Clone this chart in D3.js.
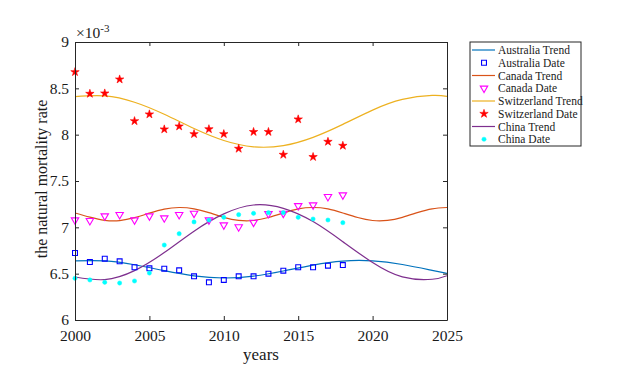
<!DOCTYPE html>
<html><head><meta charset="utf-8">
<script src="https://cdn.jsdelivr.net/npm/d3@7"></script>
<style>body{margin:0;background:#fff}svg{display:block}</style>
</head><body><svg id="c" width="635" height="370"></svg>
<script>
// ---- data (values x 1e-3) ----
const years = [2000,2001,2002,2003,2004,2005,2006,2007,2008,2009,2010,2011,2012,2013,2014,2015,2016,2017,2018];
const australiaDate   = [6.723,6.626,6.662,6.633,6.569,6.558,6.554,6.536,6.471,6.407,6.432,6.471,6.471,6.500,6.532,6.569,6.569,6.586,6.593];
const canadaDate      = [7.079,7.072,7.122,7.137,7.079,7.122,7.101,7.137,7.151,7.079,7.025,7.004,7.054,7.147,7.151,7.233,7.241,7.331,7.349];
const switzerlandDate = [8.676,8.442,8.446,8.597,8.147,8.220,8.058,8.090,8.007,8.060,8.007,7.849,8.030,8.030,7.784,8.166,7.760,7.924,7.881];
const chinaDate       = [6.450,6.432,6.407,6.399,6.421,6.507,6.809,6.931,7.058,7.079,7.108,7.137,7.151,7.158,7.158,7.108,7.090,7.079,7.050];

const trendYears2 = [2000,2002,2004,2006,2008,2010,2012,2014,2016,2018,2020,2022,2024,2025];
const australiaTrend   = [6.637,6.637,6.596,6.532,6.476,6.453,6.474,6.529,6.593,6.636,6.638,6.599,6.536,6.504];
const switzerlandTrend = [8.410,8.418,8.350,8.220,8.066,7.937,7.869,7.882,7.971,8.111,8.265,8.380,8.424,8.414];
const chinaTrend       = [6.464,6.436,6.533,6.728,6.959,7.145,7.241,7.205,7.062,6.845,6.620,6.465,6.440,6.478];
const trendYears1 = [2000,2001,2002,2003,2004,2005,2006,2007,2008,2009,2010,2011,2012,2013,2014,2015,2016,2017,2018,2019,2020,2021,2022,2023,2024,2025];
const canadaTrend = [7.155,7.110,7.076,7.073,7.104,7.153,7.197,7.214,7.200,7.158,7.108,7.075,7.074,7.106,7.155,7.199,7.214,7.199,7.155,7.106,7.074,7.075,7.108,7.158,7.200,7.214];

const xTicks = [2000,2005,2010,2015,2020,2025];
const yTicks = [6,6.5,7,7.5,8,8.5,9];
const legendLabels = ["Australia Trend","Australia Date","Canada Trend","Canada Date","Switzerland Trend","Switzerland Date","China Trend","China Date"];

// ---- layout ----
const svg = d3.select("#c");
const L=75, R=447, T=42, B=320;
const x = d3.scaleLinear().domain([2000,2025]).range([L,R]);
const y = d3.scaleLinear().domain([6,9]).range([B,T]);
const font = "Liberation Serif, Times New Roman, serif";
const axisCol = "#262626";
const txtCol = "#1a1a1a";
const C = {aus:"#0072BD", can:"#D95319", swi:"#EDB120", chn:"#7E2F8E"};

svg.append("defs").append("clipPath").attr("id","clip").append("rect")
  .attr("x",L).attr("y",T).attr("width",R-L).attr("height",B-T);

const line = d3.line().x(d=>x(d[0])).y(d=>y(d[1])).curve(d3.curveNatural);
function trend(ys, vs, col){
  svg.append("path").attr("clip-path","url(#clip)")
    .attr("d", line(ys.map((yy,i)=>[yy, vs[i]])))
    .attr("fill","none").attr("stroke",col).attr("stroke-width",1.2);
}
trend(trendYears2, australiaTrend, C.aus);
trend(trendYears1, canadaTrend, C.can);
trend(trendYears2, switzerlandTrend, C.swi);
trend(trendYears2, chinaTrend, C.chn);

const sym = {
  square: d3.symbol().type(d3.symbolSquare).size(24),
  tri: d3.symbol().type(d3.symbolTriangle).size(24),
  star: d3.symbol().type(d3.symbolStar).size(22),
  circle: d3.symbol().type(d3.symbolCircle).size(14)
};
function style(sel, kind){
  if(kind==="square") sel.attr("fill","none").attr("stroke","#0000FF").attr("stroke-width",1.1);
  if(kind==="tri") sel.attr("fill","none").attr("stroke","#FF00FF").attr("stroke-width",1.1);
  if(kind==="star") sel.attr("fill","#FF0000").attr("stroke","#FF0000").attr("stroke-width",0.6);
  if(kind==="circle") sel.attr("fill","#00FFFF").attr("stroke","#00FFFF").attr("stroke-width",0.5);
}
function markers(vals, kind){
  svg.append("g").selectAll("path").data(vals).join("path")
    .attr("transform",(d,i)=>`translate(${x(years[i])},${y(d)})` + (kind==="tri"?" rotate(180)":""))
    .attr("d", sym[kind]())
    .each(function(){ style(d3.select(this), kind); });
}
markers(australiaDate,"square");
markers(canadaDate,"tri");
markers(switzerlandDate,"star");
markers(chinaDate,"circle");

// ---- axes ----
const gx = svg.append("g").attr("transform",`translate(0,${B})`)
  .call(d3.axisBottom(x).tickValues(xTicks).tickFormat(d3.format("d")).tickSizeInner(-4).tickSizeOuter(0).tickPadding(10));
const gxt = svg.append("g").attr("transform",`translate(0,${T})`)
  .call(d3.axisTop(x).tickValues(xTicks).tickFormat("").tickSizeInner(-4).tickSizeOuter(0));
const gy = svg.append("g").attr("transform",`translate(${L},0)`)
  .call(d3.axisLeft(y).tickValues(yTicks).tickFormat(d=>d).tickSizeInner(-4).tickSizeOuter(0).tickPadding(6));
const gyr = svg.append("g").attr("transform",`translate(${R},0)`)
  .call(d3.axisRight(y).tickValues(yTicks).tickFormat("").tickSizeInner(-4).tickSizeOuter(0));
[gx,gxt,gy,gyr].forEach(g=>{
  g.attr("font-family",font).attr("font-size",15.5);
  g.select(".domain").attr("stroke",axisCol).attr("stroke-width",1);
  g.selectAll(".tick line").attr("stroke",axisCol);
  g.selectAll("text").attr("font-family",font).attr("font-size",15.5).attr("fill",txtCol);
});

// multiplier
const mt = svg.append("text").attr("x",L+1).attr("y",T-4).attr("font-family",font).attr("font-size",15.5).attr("fill",txtCol);
mt.append("tspan").text("×10");
mt.append("tspan").attr("dy",-6).attr("font-size",11).text("-3");

// axis labels
svg.append("text").attr("x",(L+R)/2).attr("y",360).attr("text-anchor","middle")
  .attr("font-family",font).attr("font-size",17).attr("fill",txtCol).text("years");
svg.append("text").attr("transform",`translate(47,${(T+B)/2 - 2}) rotate(-90)`).attr("text-anchor","middle")
  .attr("font-family",font).attr("font-size",16).attr("fill",txtCol).text("the natural mortality rate");

// ---- legend ----
const lg = svg.append("g");
const LX=470, LY=42, LW=111, LH=104;
lg.append("rect").attr("x",LX).attr("y",LY).attr("width",LW).attr("height",LH)
  .attr("fill","#fff").attr("stroke",axisCol).attr("stroke-width",1);
const legendKinds = [["line",C.aus],["square"],["line",C.can],["tri"],["line",C.swi],["star"],["line",C.chn],["circle"]];
legendLabels.forEach((lab,i)=>{
  const cy = LY + 8 + i*12.75;
  const k = legendKinds[i];
  if(k[0]==="line"){
    lg.append("line").attr("x1",LX+2).attr("x2",LX+25).attr("y1",cy).attr("y2",cy).attr("stroke",k[1]).attr("stroke-width",1.2);
  } else {
    const p = lg.append("path").attr("transform",`translate(${LX+14},${cy})`+(k[0]==="tri"?" rotate(180)":"")).attr("d",sym[k[0]]());
    style(p,k[0]);
  }
  lg.append("text").attr("x",LX+28).attr("y",cy).attr("dy","0.35em")
    .attr("font-family",font).attr("font-size",11.5).attr("fill",txtCol).text(lab);
});
</script></body></html>
